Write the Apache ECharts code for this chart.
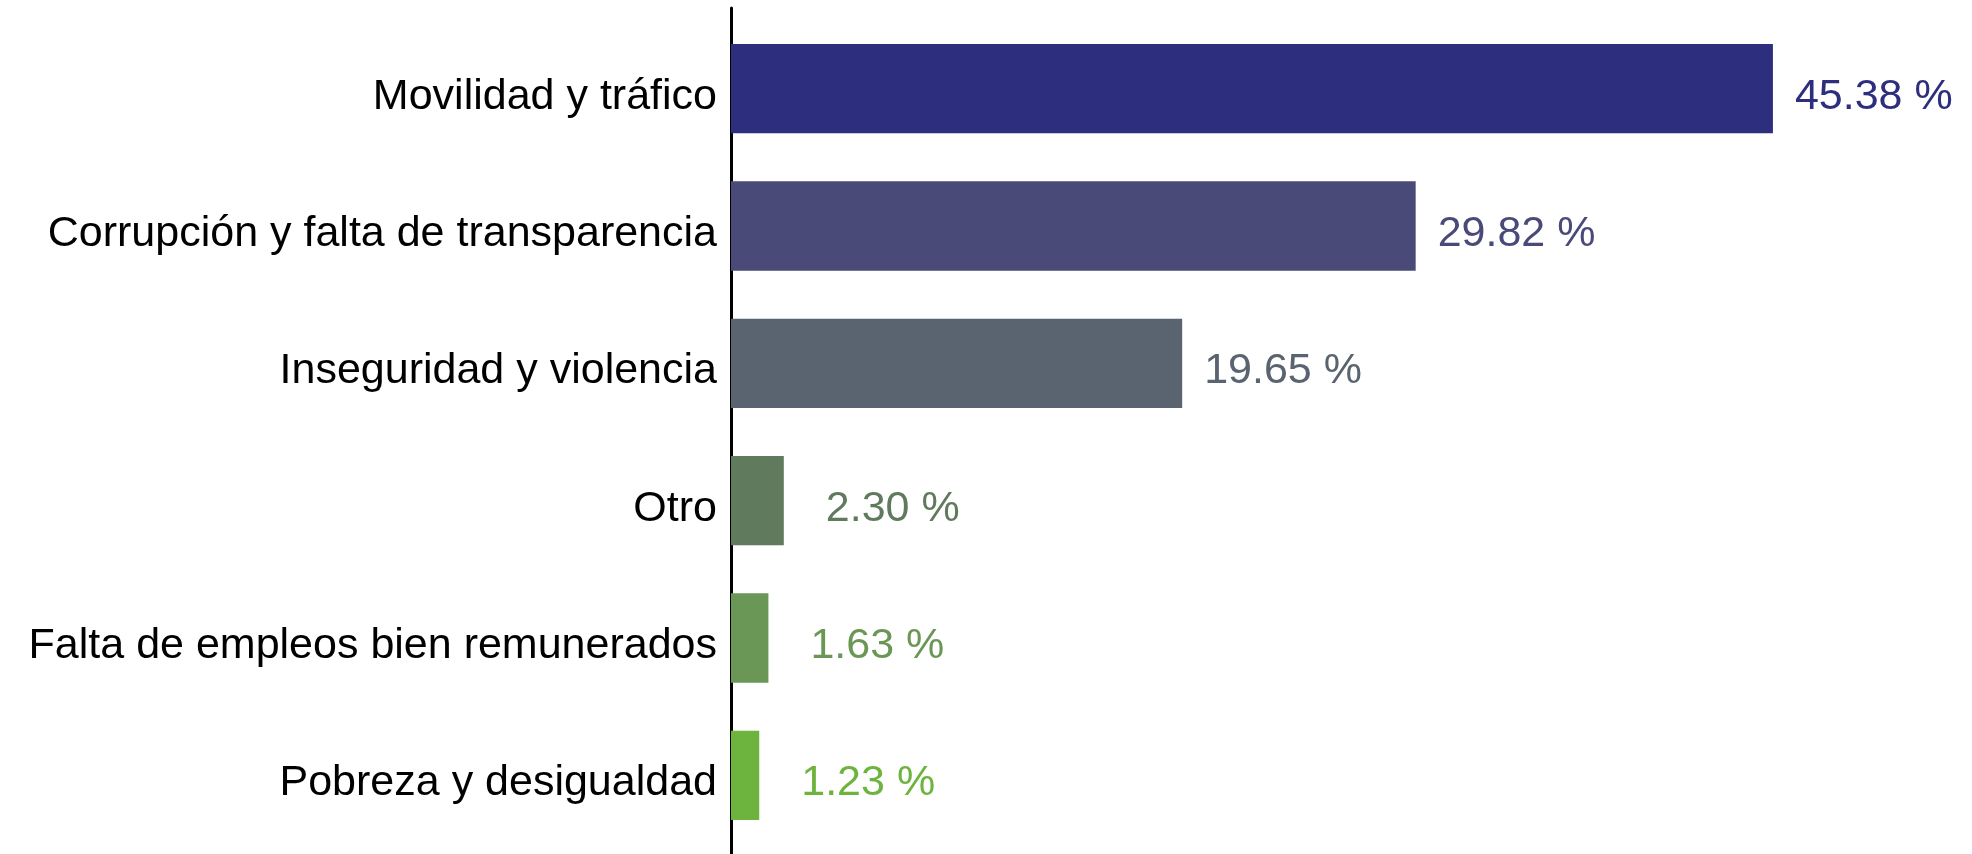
<!DOCTYPE html>
<html>
<head>
<meta charset="utf-8">
<script src="https://cdn.jsdelivr.net/npm/echarts@6/dist/echarts.min.js"></script>
<style>
  html, body { margin: 0; padding: 0; background: #fff; }
  #d { width: 1972px; height: 854px; }
</style>
</head>
<body>
<div id="d"></div>
<script>
var categorias = ['Movilidad y tráfico', 'Corrupción y falta de transparencia', 'Inseguridad y violencia', 'Otro', 'Falta de empleos bien remunerados', 'Pobreza y desigualdad'];
var valores = [45.38, 29.82, 19.65, 2.30, 1.63, 1.23];
var colores = ['#2d2e7e', '#4a4a78', '#5a6470', '#607a5e', '#6a9756', '#6db43f'];

var myChart = echarts.init(document.getElementById('d'));
var datos = [];
for (var i = 0; i < valores.length; i++) {
  datos.push({
    value: valores[i],
    itemStyle: { color: colores[i] },
    label: { color: colores[i], distance: valores[i] < 5 ? 42 : 22 }
  });
}

var option = {
  animation: false,
  grid: [
    { left: 731, right: 93, top: 20, bottom: 10 },
    // solo para la linea del eje, que va de arriba hasta abajo
    { left: 731, right: 93, top: 8, bottom: 0 }
  ],
  xAxis: [
    { type: 'value', min: 0, max: 50, show: false, gridIndex: 0 },
    { type: 'value', min: 0, max: 50, show: false, gridIndex: 1 }
  ],
  yAxis: [{
    type: 'category',
    gridIndex: 0,
    data: categorias,
    inverse: true,
    axisLine: { show: false },
    axisTick: { show: false },
    axisLabel: {
      margin: 14,
      formatter: function (v) { return '{a|' + v + '}'; },
      rich: {
        a: {
          color: '#000',
          fontSize: 43,
          fontFamily: 'Liberation Sans, Arial, sans-serif',
          padding: [16, 0, 0, 0]
        }
      }
    }
  }, {
    type: 'value',
    gridIndex: 1,
    min: 0,
    max: 1,
    splitLine: { show: false },
    axisLabel: { show: false },
    axisTick: { show: false },
    axisLine: { show: true, lineStyle: { color: '#000', width: 3 } }
  }],
  series: [{
    type: 'bar',
    xAxisIndex: 0,
    yAxisIndex: 0,
    data: datos,
    barWidth: '65%',
    label: {
      show: true,
      position: 'right',
      offset: [0, 8],
      fontSize: 43,
      fontFamily: 'Liberation Sans, Arial, sans-serif',
      formatter: function (p) { return p.value.toFixed(2) + ' %'; }
    }
  }]
};
option && myChart.setOption(option);
</script>
</body>
</html>
